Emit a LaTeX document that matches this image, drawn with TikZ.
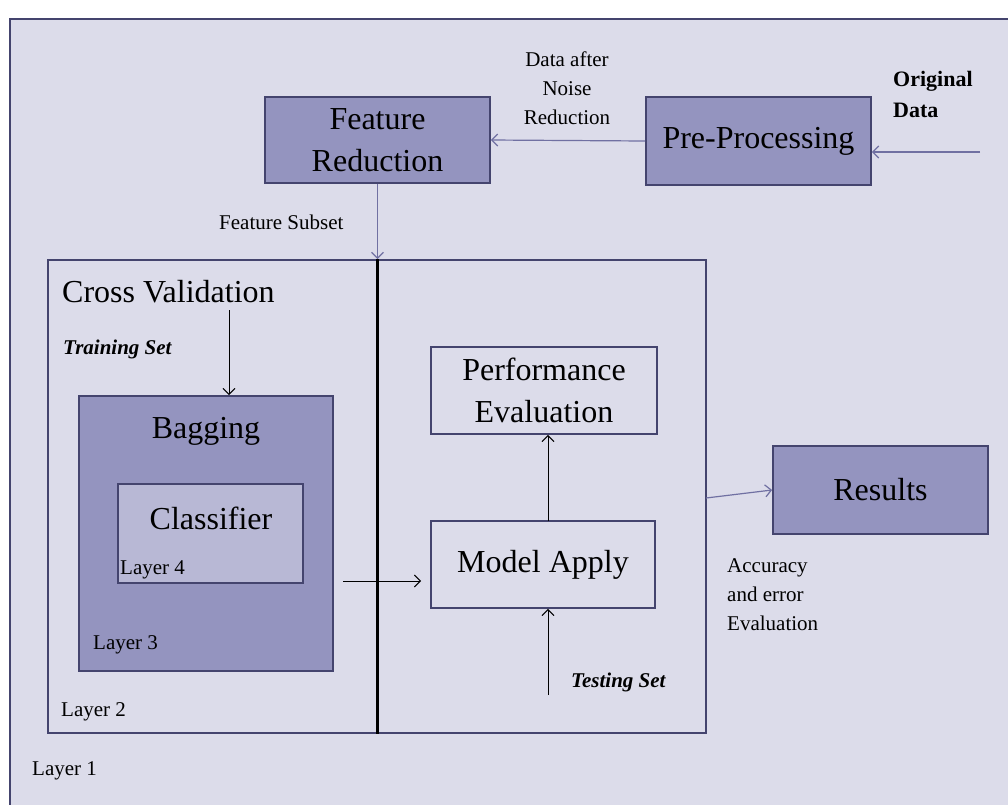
\documentclass[tikz,border=0pt]{standalone}
\usepackage{fontspec}
\setmainfont{Liberation Serif}
\usetikzlibrary{arrows.meta}
\definecolor{bgc}{HTML}{DCDCEA}
\definecolor{midc}{HTML}{9494BF}
\definecolor{litec}{HTML}{B8B8D5}
\definecolor{bordc}{HTML}{44446E}
\definecolor{lavc}{HTML}{7070A2}
\newcommand\fbig{\fontsize{32}{42}\selectfont}
\newcommand\fsmall{\fontsize{21}{29}\selectfont}
\tikzset{
  boxbase/.style={draw=bordc, line width=1.8pt, inner sep=0pt, align=center, font=\fbig},
  midbox/.style={boxbase, fill=midc},
  litebox/.style={boxbase, fill=litec},
  plainbox/.style={boxbase, fill=bgc},
  lbl/.style={inner sep=0pt, font=\fsmall, align=left},
  big/.style={inner sep=0pt, font=\fbig, align=center},
  lavarrow/.style={draw=lavc, line width=1.2pt, -{Straight Barb[length=6pt,width=12pt]}},
  blkarrow/.style={draw=black, line width=1pt, -{Straight Barb[length=6pt,width=12pt]}},
}
\begin{document}
\begin{tikzpicture}[x=1pt,y=-1pt]
\useasboundingbox (0,0) rectangle (1008,804);
\clip (0,0) rectangle (1008,804);
\fill[white] (0,0) rectangle (1008,804);
% Layer 1 frame
\draw[draw=bordc, line width=2pt, fill=bgc] (10,19) rectangle (1040,840);
\node[lbl, anchor=west] (l1) at (32,771) {Layer 1};

% top row
\node[midbox, minimum width=225, minimum height=86] (fr) at (377.5,140) {Feature\\Reduction};
\node[midbox, minimum width=225, minimum height=88] (pp) at (758.5,141) {Pre-Processing};
\node[lbl, align=center, anchor=center] (dan) at (567,88) {Data after\\Noise\\Reduction};
\node[lbl, anchor=north west, font=\fontsize{22}{31}\selectfont\bfseries] (od) at (893,71) {Original\\Data};
\coordinate (odst) at (980,152);
\draw[lavarrow] (odst) -- (odst -| pp.east);
\draw[lavarrow] (pp.west) -- (fr.east);

% Layer 2 frame
\node[draw=bordc, line width=1.8pt, minimum width=658, minimum height=473, inner sep=0pt] (l2) at (377,496.5) {};
\node[lbl, anchor=west] (l2t) at (61,712) {Layer 2};
\draw[line width=3pt, black] (l2.north -| fr.south) -- (l2.south -| fr.south);
\node[lbl, anchor=west] (fs) at (219,222) {Feature Subset};
\draw[lavarrow] (fr.south) -- (fr.south |- l2.north);

\node[big, anchor=west] (cv) at (62,292) {Cross Validation};
\node[lbl, anchor=west, font=\fsmall\bfseries\itshape] (ts) at (63,349) {Training Set};

% Bagging / Classifier
\node[midbox, minimum width=254, minimum height=275] (bag) at (206,533.5) {};
\node[big] (bagt) at (206,431) {Bagging};
\node[lbl, anchor=west] (l3) at (93,645) {Layer 3};
\node[litebox, minimum width=185, minimum height=99] (cls) at (210.5,533.5) {};
\node[big] (clst) at (211,518) {Classifier};
\node[lbl, anchor=west] (l4) at (120,570) {Layer 4};

\coordinate (trs) at (229,310);
\draw[blkarrow] (trs) -- (trs |- bag.north);

% right part of layer 2
\node[plainbox, minimum width=226, minimum height=87] (pe) at (544,390.5) {Performance\\Evaluation};
\node[plainbox, minimum width=224, minimum height=87] (ma) at (543,564.5) {Model Apply};
\coordinate (mup) at (548,521);
\draw[blkarrow] (mup) -- (mup |- pe.south);
\coordinate (tsb) at (548,695);
\draw[blkarrow] (tsb) -- (tsb |- ma.south);
\node[lbl, anchor=west, font=\fsmall\bfseries\itshape] (tst) at (571,682) {Testing Set};
\coordinate (bout) at (343,581);
\draw[blkarrow] (bout) -- ([xshift=-9pt]ma.west |- bout);

% results
\node[midbox, minimum width=215, minimum height=88] (res) at (880.5,490) {Results};
\coordinate (l2o) at (706,498);
\draw[lavarrow] (l2o) -- (res.west);
\node[lbl, anchor=north west] (acc) at (727,558) {Accuracy\\and error\\Evaluation};
\end{tikzpicture}
\end{document}
